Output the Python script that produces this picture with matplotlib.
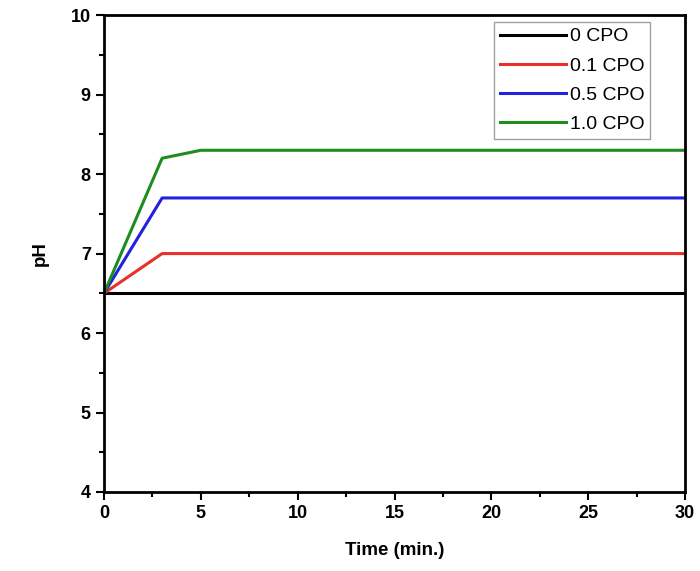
import matplotlib
matplotlib.use("Agg")
import matplotlib.pyplot as plt
from matplotlib.ticker import MultipleLocator

plt.rcParams['font.family'] = ['Liberation Sans', 'DejaVu Sans']

labels = ["0 CPO", "0.1 CPO", "0.5 CPO", "1.0 CPO"]
colors = ["black", "#e8302a", "#2222dd", "#1e8c1e"]
t0 = [0, 30]
ph0 = [6.5, 6.5]
t1 = [0, 3, 30]
ph1 = [6.5, 7.0, 7.0]
t2 = [0, 3, 30]
ph2 = [6.5, 7.7, 7.7]
t3 = [0, 3, 5, 30]
ph3 = [6.5, 8.2, 8.3, 8.3]

fig = plt.figure(figsize=(7.0, 5.71), dpi=100)
ax = fig.add_axes([0.1486, 0.1384, 0.83, 0.835])
for t, p, c, l in zip([t0, t1, t2, t3], [ph0, ph1, ph2, ph3], colors, labels):
    ax.plot(t, p, color=c, lw=2.2, label=l)

ax.set_xlim(0, 30)
ax.set_ylim(4, 10)
ax.xaxis.set_major_locator(MultipleLocator(5))
ax.xaxis.set_minor_locator(MultipleLocator(2.5))
ax.yaxis.set_major_locator(MultipleLocator(1))
ax.yaxis.set_minor_locator(MultipleLocator(0.5))
ax.tick_params(which='both', direction='out', width=1.5, top=False, right=False)
ax.tick_params(which='major', length=6, labelsize=13)
ax.tick_params(which='minor', length=3.5)
for lab in ax.get_xticklabels() + ax.get_yticklabels():
    lab.set_fontweight('bold')
for s in ax.spines.values():
    s.set_linewidth(2)
ax.set_xlabel("Time (min.)", fontsize=13.5, fontweight='bold', labelpad=14)
ax.set_ylabel("pH", fontsize=13.5, fontweight='bold', labelpad=16)
leg = ax.legend(loc='upper right', bbox_to_anchor=(0.94, 0.986), fontsize=14,
                frameon=True, fancybox=False, edgecolor='#888888',
                handlelength=3.4, handletextpad=0.2, labelspacing=0.6,
                borderpad=0.3, borderaxespad=0)
leg.get_frame().set_linewidth(1)
fig.savefig("out.png", dpi=100)
